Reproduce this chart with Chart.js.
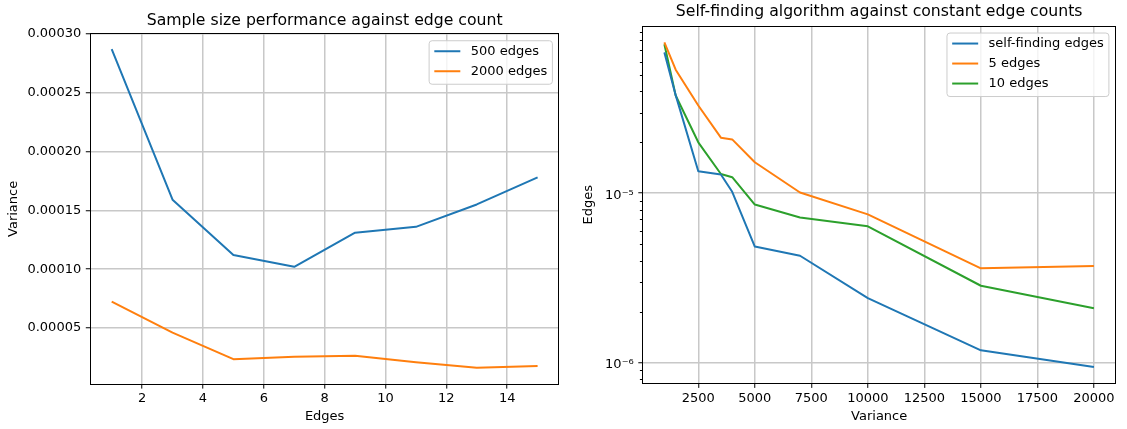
<!DOCTYPE html>
<html>
<head>
<meta charset="utf-8">
<script src="https://cdn.jsdelivr.net/npm/chart.js@4"></script>
<style>
  body { margin: 0; background: #fff; }
  .wrap { position: absolute; top: 0; height: 429px; }
  #left { left: 0; width: 561px; }
  #right { left: 561px; width: 566px; }
</style>
</head>
<body>
<div class="wrap" id="left"><canvas id="sizeChart" width="561" height="429"></canvas></div>
<div class="wrap" id="right"><canvas id="selfChart" width="566" height="429"></canvas></div>
<script>
// left: variance per edge count for two sample sizes
const edgeCounts = [1, 3, 5, 7, 9, 11, 13, 15]
const var500 = [0.000287, 0.000159, 0.000112, 0.000102, 0.000131, 0.000136, 0.000155, 0.000178]
const var2000 = [0.0000725, 0.0000461, 0.0000236, 0.0000257, 0.0000265, 0.000021, 0.0000163, 0.0000177]
const edgeTicks = [2, 4, 6, 8, 10, 12, 14]
const varianceTicks = [0.00005, 0.0001, 0.00015, 0.0002, 0.00025, 0.0003]

// right: self-finding vs fixed edge counts (log y)
const sampleVariance = [1000, 1500, 2500, 3500, 4000, 5000, 7000, 10000, 15000, 20000]
const selfFinding = [6.8e-5, 3.8e-5, 1.35e-5, 1.29e-5, 1.02e-5, 4.84e-6, 4.27e-6, 2.4e-6, 1.18e-6, 9.4e-7]
const fiveEdges = [7.8e-5, 5.37e-5, 3.3e-5, 2.13e-5, 2.08e-5, 1.525e-5, 1.01e-5, 7.5e-6, 3.6e-6, 3.72e-6]
const tenEdges = [7.6e-5, 3.78e-5, 2.0e-5, 1.3e-5, 1.244e-5, 8.57e-6, 7.18e-6, 6.38e-6, 2.84e-6, 2.09e-6]
const sampleTicks = [2500, 5000, 7500, 10000, 12500, 15000, 17500, 20000]
const decadeTicks = [1e-6, 1e-5]
const decadeLabels = ['10\u207b\u2076', '10\u207b\u2075']
const minorTicks = [8e-7, 9e-7, 2e-6, 3e-6, 4e-6, 5e-6, 6e-6, 7e-6, 8e-6, 9e-6,
  2e-5, 3e-5, 4e-5, 5e-5, 6e-5, 7e-5, 8e-5, 9e-5]

const BLUE = '#1f77b4'
const ORANGE = '#ff7f0e'
const GREEN = '#2ca02c'

Chart.defaults.font = { family: "'DejaVu Sans', sans-serif", size: 13 }
Chart.defaults.color = '#000'

function points(xs, ys) {
  return xs.map((x, i) => ({ x: x, y: ys[i] }))
}

function series(label, xs, ys, color) {
  return {
    label: label,
    data: points(xs, ys),
    borderColor: color,
    backgroundColor: color,
    borderWidth: 2,
    pointRadius: 0,
    tension: 0,
    fill: false,
    borderJoinStyle: 'round'
  }
}

// box around the plot + short minor ticks on the y axis
const frame = {
  id: 'frame',
  afterDatasetsDraw(chart, args, opts) {
    const { ctx, chartArea: a } = chart
    const l = Math.floor(a.left) + 0.5
    const t = Math.floor(a.top) + 0.5
    const r = Math.floor(a.right) + 0.5
    const b = Math.floor(a.bottom) + 0.5
    ctx.save()
    ctx.strokeStyle = '#000'
    ctx.lineWidth = 1
    ctx.strokeRect(l, t, r - l, b - t)
    if (opts.minor) {
      const y = chart.scales.y
      ctx.beginPath()
      opts.minor.forEach(v => {
        const py = Math.round(y.getPixelForValue(v)) + 0.5
        ctx.moveTo(l - 2.6, py)
        ctx.lineTo(l, py)
      })
      ctx.stroke()
    }
    ctx.restore()
  }
}

// legend box in the upper right corner of the plot
const legendBox = {
  id: 'legendBox',
  afterDraw(chart) {
    const { ctx, chartArea } = chart
    const sets = chart.data.datasets
    ctx.save()
    ctx.font = "13px 'DejaVu Sans'"
    const textW = Math.max(...sets.map(d => ctx.measureText(d.label).width))
    const w = 5.2 + 26 + 10.4 + textW + 5.2
    const h = 10.5 + (sets.length - 1) * 20 + 13
    const x = chartArea.right - 6.5 - w
    const y = chartArea.top + 7
    ctx.beginPath()
    ctx.roundRect(x, y, w, h, 3)
    ctx.fillStyle = 'rgba(255,255,255,0.8)'
    ctx.fill()
    ctx.strokeStyle = '#cccccc'
    ctx.lineWidth = 1
    ctx.stroke()
    ctx.textBaseline = 'middle'
    ctx.textAlign = 'left'
    sets.forEach((d, i) => {
      const ry = y + 10.5 + i * 20
      ctx.beginPath()
      ctx.strokeStyle = d.borderColor
      ctx.lineWidth = 2
      ctx.moveTo(x + 5.2, ry)
      ctx.lineTo(x + 31.2, ry)
      ctx.stroke()
      ctx.fillStyle = '#000'
      ctx.fillText(d.label, x + 41.6, ry)
    })
    ctx.restore()
  }
}

const gridStyle = { color: '#c8c8c8', lineWidth: 1.5, tickColor: '#000', tickLength: 4.6, tickWidth: 1 }

new Chart(document.getElementById('sizeChart'), {
  type: 'line',
  data: {
    datasets: [
      series('500 edges', edgeCounts, var500, BLUE),
      series('2000 edges', edgeCounts, var2000, ORANGE)
    ]
  },
  plugins: [frame, legendBox],
  options: {
    responsive: false,
    animation: false,
    devicePixelRatio: 1,
    layout: { padding: { left: 0, right: 2.1, top: 0, bottom: 0 } },
    plugins: {
      legend: { display: false },
      tooltip: { enabled: false },
      title: {
        display: true,
        fullSize: false,
        text: 'Sample size performance against edge count',
        font: { size: 15.7, weight: 'normal' },
        padding: { top: 11.1, bottom: 3.8 }
      },
      frame: {}
    },
    scales: {
      x: {
        type: 'linear',
        min: 0.3,
        max: 15.7,
        afterBuildTicks: axis => { axis.ticks = edgeTicks.map(v => ({ value: v })) },
        afterFit: axis => { axis.height = 45 },
        ticks: { callback: v => String(v), padding: 2.6, autoSkip: false, maxRotation: 0 },
        grid: gridStyle,
        border: { display: false },
        title: { display: true, text: 'Edges', padding: { top: 0, bottom: 4.4 } }
      },
      y: {
        type: 'linear',
        min: 0.0000025,
        max: 0.0003,
        afterBuildTicks: axis => { axis.ticks = varianceTicks.map(v => ({ value: v })) },
        afterFit: axis => { axis.width = 90.4 },
        ticks: { callback: v => v.toFixed(5), padding: 4.6, autoSkip: false },
        grid: gridStyle,
        border: { display: false },
        title: { display: true, text: 'Variance', padding: { top: 6.2, bottom: 0 } }
      }
    }
  }
})

new Chart(document.getElementById('selfChart'), {
  type: 'line',
  data: {
    datasets: [
      series('self-finding edges', sampleVariance, selfFinding, BLUE),
      series('5 edges', sampleVariance, fiveEdges, ORANGE),
      series('10 edges', sampleVariance, tenEdges, GREEN)
    ]
  },
  plugins: [frame, legendBox],
  options: {
    responsive: false,
    animation: false,
    devicePixelRatio: 1,
    layout: { padding: { left: 0, right: 11.6, top: 0, bottom: 0 } },
    plugins: {
      legend: { display: false },
      tooltip: { enabled: false },
      title: {
        display: true,
        fullSize: false,
        text: 'Self-finding algorithm against constant edge counts',
        font: { size: 15.7, weight: 'normal' },
        padding: { top: 2.6, bottom: 4.6 }
      },
      frame: { minor: minorTicks }
    },
    scales: {
      x: {
        type: 'linear',
        min: 50,
        max: 20950,
        afterBuildTicks: axis => { axis.ticks = sampleTicks.map(v => ({ value: v })) },
        afterFit: axis => { axis.height = 45.7 },
        ticks: { callback: v => String(v), padding: 2.6, autoSkip: false, maxRotation: 0 },
        grid: gridStyle,
        border: { display: false },
        title: { display: true, text: 'Variance', padding: { top: 0, bottom: 4.4 } }
      },
      y: {
        type: 'logarithmic',
        min: 7.53e-7,
        max: 9.73e-5,
        afterBuildTicks: axis => { axis.ticks = decadeTicks.map(v => ({ value: v, major: true })) },
        afterFit: axis => { axis.width = 81.9 },
        ticks: { callback: (v, i) => decadeLabels[i], padding: 4.6, labelOffset: 2, autoSkip: false },
        grid: gridStyle,
        border: { display: false },
        title: { display: true, text: 'Edges', padding: { top: 19.7, bottom: 0 } }
      }
    }
  }
})
</script>
</body>
</html>
